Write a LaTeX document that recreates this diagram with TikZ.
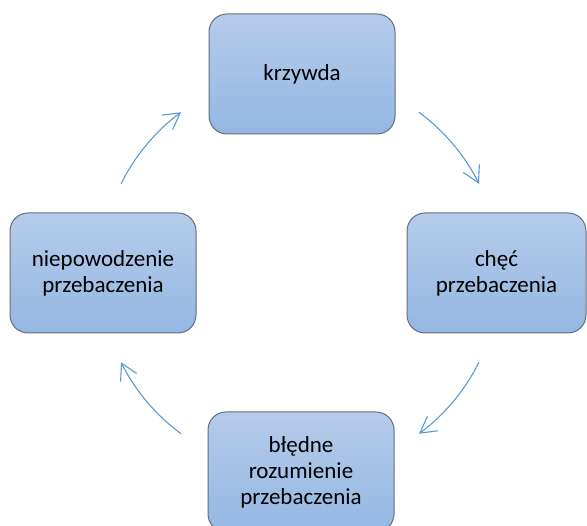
\documentclass[tikz,border=0pt]{standalone}
\usepackage{fontspec}
\setmainfont{Carlito}
\usetikzlibrary{arrows.meta}
\definecolor{boxtop}{RGB}{181,204,235}
\definecolor{boxbot}{RGB}{148,183,227}
\definecolor{boxline}{RGB}{100,110,122}
\definecolor{arrowblue}{RGB}{91,155,213}
\tikzset{
  cyclebox/.style={draw=boxline, line width=1pt, rounded corners=18pt,
    top color=boxtop, bottom color=boxbot, minimum height=120pt,
    align=center, inner sep=0pt, text=black,
    font=\fontsize{23}{26}\selectfont},
  cyclearrow/.style={draw=arrowblue, line width=1.1pt,
    -{Straight Barb[length=16pt,width=18pt]}}
}
\begin{document}
\begin{tikzpicture}[x=1pt,y=1pt]
\useasboundingbox (0,0) rectangle (587,526);
\node[cyclebox, minimum width=186pt] (krzywda) at (302,452) {krzywda};
\node[cyclebox, minimum width=179pt] (chec) at (496.5,253) {chęć\\przebaczenia};
\node[cyclebox, minimum width=186pt] (bledne) at (301,54) {błędne\\rozumienie\\przebaczenia};
\node[cyclebox, minimum width=186pt] (niepow) at (103,253) {niepowodzenie\\przebaczenia};
\coordinate (c) at (300,253);
\draw[cyclearrow] ([shift={(53.5:200)}]c) arc[start angle=53.5, end angle=26.5, radius=200];
\draw[cyclearrow] ([shift={(-26.5:200)}]c) arc[start angle=-26.5, end angle=-53.5, radius=200];
\draw[cyclearrow] ([shift={(-126.5:200)}]c) arc[start angle=-126.5, end angle=-153.5, radius=200];
\draw[cyclearrow] ([shift={(153.5:200)}]c) arc[start angle=153.5, end angle=126.5, radius=200];
\end{tikzpicture}
\end{document}
